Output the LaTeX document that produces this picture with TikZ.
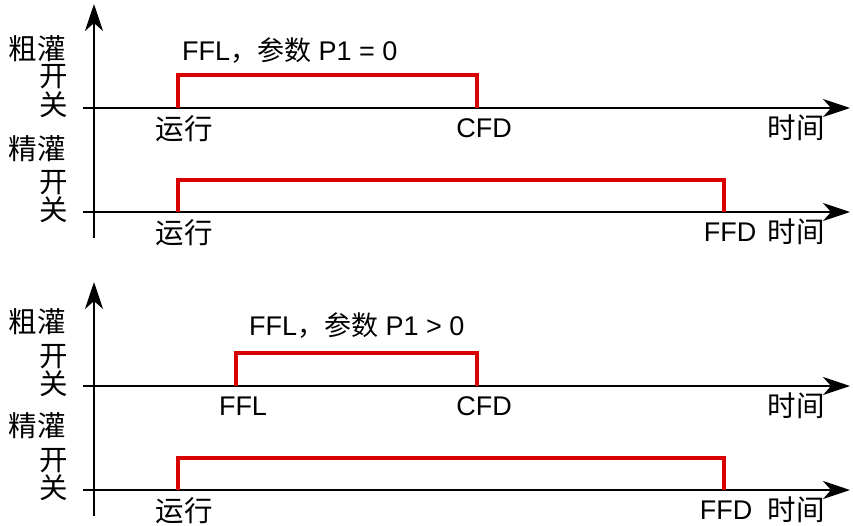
\documentclass[tikz,border=0pt]{standalone}
\usepackage{fontspec}
\setmainfont{Liberation Sans}
\newfontfamily\cjk{Noto Sans CJK SC}
\usetikzlibrary{arrows.meta}

\tikzset{
    axis/.style={line width=2.4pt,-{Stealth[length=27pt,width=18pt,inset=8pt]}},
    pulse/.style={line width=3.4pt,red!85!black,line join=miter},
    lbl/.style={inner sep=0pt,font=\fontsize{27}{27}\selectfont},
    zh/.style={inner sep=0pt,font=\fontsize{28.5}{28.5}\selectfont\cjk},
}

\begin{document}
\begin{tikzpicture}[x=1pt,y=-1pt]
    \useasboundingbox (0,0) rectangle (853,525);

    % obere Darstellung, P1 = 0
    \coordinate (t0) at (94,238);
    \coordinate (t1) at (94,4);
    \draw[axis] (t0) -- (t1);
    \coordinate (a0) at (83,108);
    \coordinate (a1) at (850,108);
    \draw[axis] (a0) -- (a1);
    \coordinate (b0) at (83,212);
    \coordinate (b1) at (850,212);
    \draw[axis] (b0) -- (b1);
    \draw[pulse] (178,108) -- (178,75) -- (477,75) -- (477,108);
    \draw[pulse] (178,212) -- (178,180) -- (724,180) -- (724,212);
    \node[zh,anchor=east] (cu1) at (66,49) {粗灌};
    \node[zh,anchor=east] (cuk1) at (68,77) {开};
    \node[zh,anchor=east] (cug1) at (68,105) {关};
    \node[zh,anchor=east] (jing1) at (66,149) {精灌};
    \node[zh,anchor=east] (jk1) at (68,183) {开};
    \node[zh,anchor=east] (jg1) at (68,210) {关};
    \node[lbl,anchor=west] (ffl1) at (182,51) {FFL{\cjk ，参数} P1 = 0};
    \node[zh] (run1) at (184,129) {运行};
    \node[lbl] (cfd1) at (484,128) {CFD};
    \node[zh] (time1) at (796,128) {时间};
    \node[lbl] (ffd1) at (730,232) {FFD};
    \node[zh] (time2) at (796,232) {时间};
    \node[zh] (run2) at (184,233) {运行};

    % untere Darstellung, P1 > 0
    \coordinate (t2) at (94,516);
    \coordinate (t3) at (94,282);
    \draw[axis] (t2) -- (t3);
    \coordinate (c0) at (83,386);
    \coordinate (c1) at (850,386);
    \draw[axis] (c0) -- (c1);
    \coordinate (d0) at (83,490);
    \coordinate (d1) at (850,490);
    \draw[axis] (d0) -- (d1);
    \draw[pulse] (236,386) -- (236,353) -- (477,353) -- (477,386);
    \draw[pulse] (178,490) -- (178,458) -- (724,458) -- (724,490);
    \node[zh,anchor=east] (cu2) at (66,322) {粗灌};
    \node[zh,anchor=east] (cuk2) at (68,357) {开};
    \node[zh,anchor=east] (cug2) at (68,384) {关};
    \node[zh,anchor=east] (jing2) at (66,426) {精灌};
    \node[zh,anchor=east] (jk2) at (68,461) {开};
    \node[zh,anchor=east] (jg2) at (68,488) {关};
    \node[lbl,anchor=west] (ffl2) at (249,326) {FFL{\cjk ，参数} P1 > 0};
    \node[lbl] (ffl3) at (243,406) {FFL};
    \node[lbl] (cfd2) at (484,406) {CFD};
    \node[zh] (time3) at (796,406) {时间};
    \node[lbl] (ffd2) at (726,510) {FFD};
    \node[zh] (time4) at (796,510) {时间};
    \node[zh] (run3) at (184,511) {运行};
\end{tikzpicture}
\end{document}
